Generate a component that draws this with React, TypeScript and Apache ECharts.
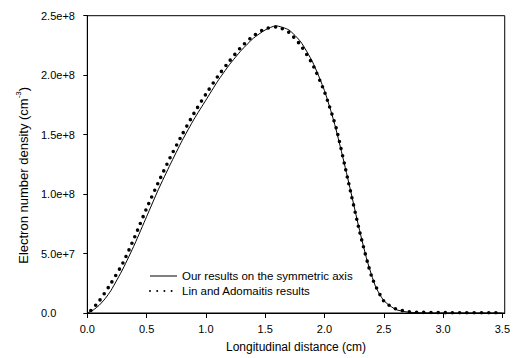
import React, { useEffect, useRef } from "react";
import * as echarts from "echarts";

const ourX = [0, 0.05, 0.1, 0.15, 0.2, 0.3, 0.4, 0.5, 0.6, 0.7, 0.8, 0.9, 1.0, 1.1, 1.2, 1.3, 1.4, 1.5, 1.59, 1.7, 1.8, 1.9, 2.0, 2.08, 2.15, 2.22, 2.29, 2.36, 2.43, 2.5, 2.6, 2.7, 2.8, 3.0, 3.5];
const ourY = [0, 0.025, 0.065, 0.12, 0.19, 0.37, 0.58, 0.81, 1.04, 1.25, 1.45, 1.63, 1.79, 1.95, 2.09, 2.21, 2.31, 2.38, 2.415, 2.38, 2.28, 2.11, 1.87, 1.61, 1.33, 1.03, 0.72, 0.44, 0.225, 0.105, 0.03, 0.008, 0.002, 0, 0];

const linX = [0.03, 0.1, 0.2, 0.3, 0.4, 0.5, 0.6, 0.7, 0.8, 0.9, 1.0, 1.1, 1.2, 1.3, 1.4, 1.5, 1.6, 1.7, 1.8, 1.9, 2.0, 2.1, 2.2, 2.3, 2.4, 2.5, 2.6, 2.7, 2.8, 3.0, 3.5];
const linY = [0.02, 0.1, 0.25, 0.42, 0.64, 0.88, 1.1, 1.31, 1.5, 1.68, 1.84, 1.99, 2.12, 2.24, 2.33, 2.39, 2.405, 2.36, 2.25, 2.09, 1.86, 1.55, 1.11, 0.67, 0.3, 0.1, 0.035, 0.012, 0.006, 0.003, 0.002];

const xTicks = [0, 0.5, 1.0, 1.5, 2.0, 2.5, 3.0, 3.5];
const SCALE = 1e8;

const seriesNames = ["Our results on the symmetric axis", "Lin and Adomaitis results"];

function fmtY(v: number): string {
  if (v === 0) return "0.0";
  const e = Math.floor(Math.log10(v) + 1e-9);
  const m = v / Math.pow(10, e);
  return m.toFixed(1) + "e+" + e;
}

export default function App() {
  const ref = useRef<HTMLDivElement>(null);
  useEffect(() => {
    document.body.style.margin = "0";
    const chart = echarts.init(ref.current!, null, { renderer: "svg" });
    const font = "Liberation Sans, Arial, sans-serif";
    chart.setOption({
      animation: false,
      backgroundColor: "#fff",
      textStyle: { fontFamily: font, color: "#000" },
      grid: {
        left: 87.3,
        right: 7,
        top: 15.7,
        bottom: 41.3,
        show: true,
        borderColor: "#000",
        borderWidth: 1,
        containLabel: false,
      },
      legend: {
        orient: "vertical",
        left: 144,
        top: 265,
        itemWidth: 27,
        itemHeight: 8,
        itemGap: 3,
        itemStyle: { opacity: 0 },
        textStyle: { fontFamily: font, fontSize: 11.5, color: "#000", lineHeight: 12 },
        data: [
          { name: seriesNames[0], lineStyle: { width: 1 } },
          { name: seriesNames[1] },
        ],
      },
      xAxis: {
        type: "value",
        min: 0,
        max: 3.52,
        name: "Longitudinal distance (cm)",
        nameLocation: "middle",
        nameGap: 28,
        nameTextStyle: { fontFamily: font, fontSize: 12, color: "#000" },
        splitLine: { show: false },
        axisLine: { show: true, onZero: false, lineStyle: { color: "#000", width: 1 } },
        axisTick: { show: true, inside: false, length: 5, lineStyle: { color: "#000" }, customValues: xTicks },
        axisLabel: {
          fontFamily: font,
          fontSize: 11,
          color: "#000",
          margin: 10,
          customValues: xTicks,
          formatter: (v: number) => v.toFixed(1),
        },
      },
      yAxis: {
        type: "value",
        min: 0,
        max: 2.5e8,
        interval: 5e7,
        name: "{a|Electron number density (cm}{b|-3}{a|)}",
        nameLocation: "middle",
        nameGap: 56,
        nameRotate: 90,
        nameTextStyle: {
          padding: [0, 22, 0, 0],
          rich: {
            a: { fontFamily: font, fontSize: 13, color: "#000", lineHeight: 16, verticalAlign: "bottom" },
            b: { fontFamily: font, fontSize: 8, color: "#000", lineHeight: 16, verticalAlign: "top" },
          },
        },
        splitLine: { show: false },
        axisLine: { show: true, lineStyle: { color: "#000", width: 1 } },
        axisTick: { show: true, inside: false, length: 4, lineStyle: { color: "#000" } },
        axisLabel: {
          fontFamily: font,
          fontSize: 11,
          color: "#000",
          margin: 46.3,
          align: "left",
          formatter: (v: number) => fmtY(v),
        },
      },
      series: [
        {
          name: seriesNames[0],
          type: "line",
          data: ourX.map((x, i) => [x, ourY[i] * SCALE]),
          smooth: 0.2,
          symbol: "none",
          lineStyle: { color: "#000", width: 1 },
          itemStyle: { color: "#000" },
          z: 3,
        },
        {
          name: seriesNames[1],
          type: "line",
          data: linX.map((x, i) => [x, linY[i] * SCALE]),
          smooth: 0.2,
          symbol: "none",
          lineStyle: { color: "#000", width: 3.6, type: [0, 7.2], cap: "round" },
          itemStyle: { color: "#000" },
          z: 2,
        },
      ],
    });
    return () => chart.dispose();
  }, []);
  return <div ref={ref} style={{ width: 513, height: 358 }} />;
}
